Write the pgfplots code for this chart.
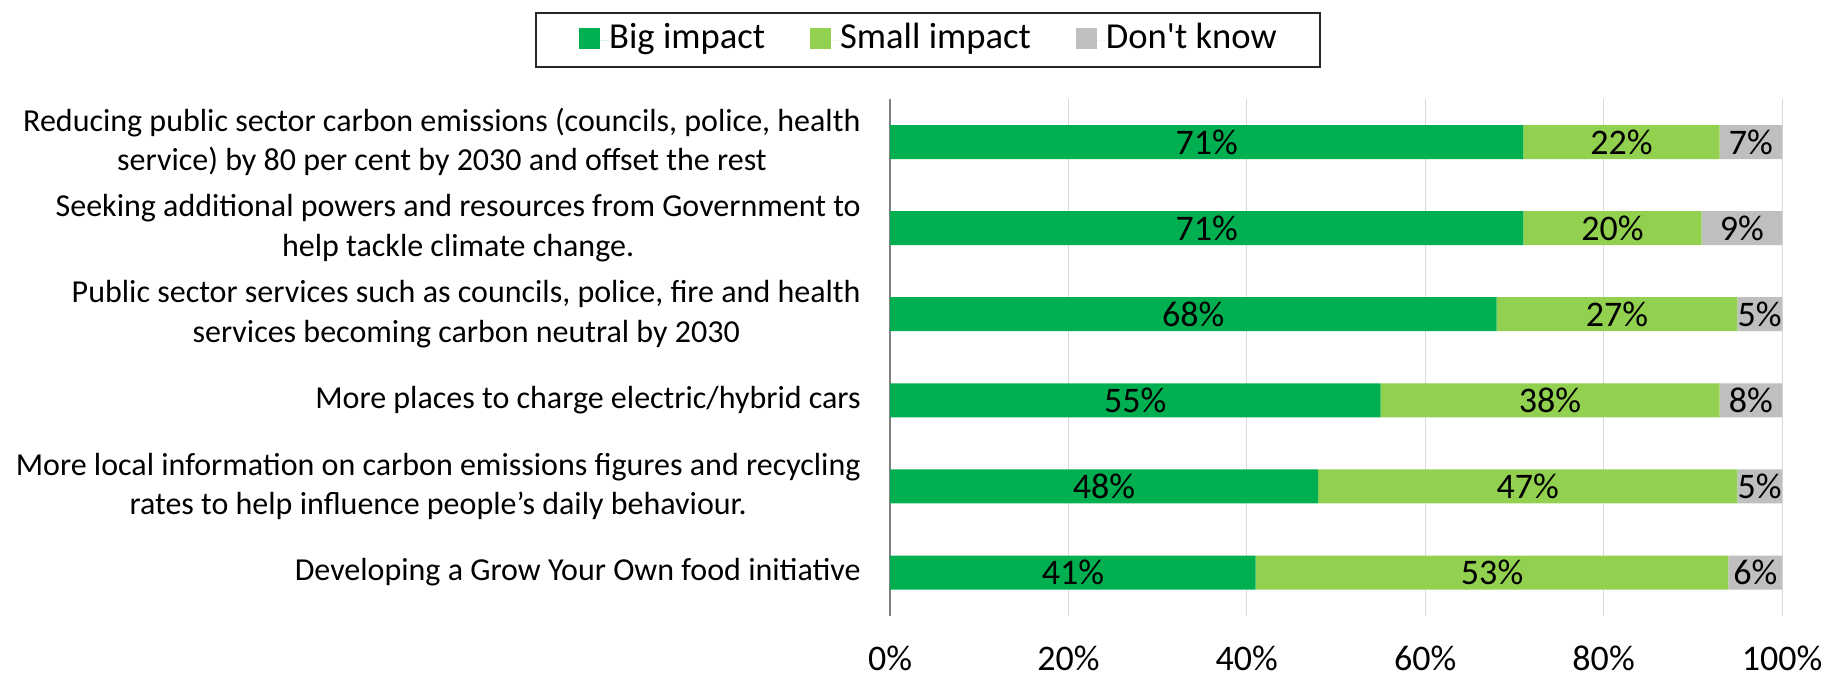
\documentclass[border=0pt]{standalone}
\usepackage{pgfplots}
\pgfplotsset{compat=1.18}
\usepackage{fontspec}
\setmainfont{Carlito}[Ligatures=TeXOff]
\definecolor{bigc}{HTML}{00B050}
\definecolor{smallc}{HTML}{92D050}
\definecolor{dkc}{HTML}{BFBFBF}
\definecolor{gridc}{HTML}{D9D9D9}
\definecolor{axc}{HTML}{808080}
\begin{document}
\begin{tikzpicture}
\path[use as bounding box] (0,0) rectangle (920.5pt,339pt);
\begin{axis}[
  at={(445pt,31.2pt)}, anchor=south west,
  scale only axis, width=446pt, height=258.3pt,
  /pgf/number format/assume math mode=true,
  xbar stacked, bar width=17pt,
  xmin=0, xmax=100, ymin=-0.5, ymax=5.5, y dir=reverse,
  enlargelimits=false,
  xtick={0,20,40,60,80,100},
  xticklabels={0\%,20\%,40\%,60\%,80\%,100\%},
  xticklabel style={anchor=base, yshift=-27.5pt, inner sep=0pt, font=\fontsize{18}{22}\selectfont},
  ytick={0,1,2,3,4,5},
  yticklabels={
    {Reducing public sector carbon emissions (councils, police, health\\service) by 80 per cent by 2030 and offset the rest},
    {Seeking additional powers and resources from Government to\\help tackle climate change.},
    {Public sector services such as councils, police, fire and health\\services becoming carbon neutral by 2030},
    {More places to charge electric/hybrid cars},
    {More local information on carbon emissions figures and recycling\\rates to help influence people’s daily behaviour.},
    {Developing a Grow Your Own food initiative}},
  yticklabel style={align=center, anchor=east, inner sep=0pt, xshift=-14.5pt, font=\fontsize{16}{19.8}\selectfont},
  major tick length=0pt,
  xmajorgrids, grid style={color=gridc, line width=0.5pt},
  extra x ticks={0}, extra x tick labels={},
  extra x tick style={grid style={color=axc, line width=1pt}},
  axis line style={draw=none},
  point meta=explicit,
  nodes near coords={\pgfmathprintnumber{\pgfplotspointmeta}\%},
  every node near coord/.append style={font=\fontsize{18}{22}\selectfont, black},
  legend columns=3,
  legend style={at={(axis description cs:0.0426,1.168)}, anchor=north,
    draw=black!85, line width=1pt, font=\fontsize{18.3}{22}\selectfont,
    inner xsep=21.5pt, inner ysep=4.6pt,
    nodes={inner sep=0pt, text height=13.2pt, text depth=4.6pt},
    /tikz/every even column/.append style={column sep=22.5pt}},
  legend image code/.code={\fill[#1] (0pt,-4.5pt) rectangle (10.5pt,6pt); \path (0pt,0pt) -- (15pt,0pt);},
]
\addplot[fill=bigc, draw=none] coordinates {(71,0)[71] (71,1)[71] (68,2)[68] (55,3)[55] (48,4)[48] (41,5)[41]};
\addplot[fill=smallc, draw=none] coordinates {(22,0)[22] (20,1)[20] (27,2)[27] (38,3)[38] (47,4)[47] (53,5)[53]};
\addplot[fill=dkc, draw=none] coordinates {(7,0)[7] (9,1)[9] (5,2)[5] (7,3)[8] (5,4)[5] (6,5)[6]};
\legend{Big impact, Small impact, Don't know}
\end{axis}
\end{tikzpicture}
\end{document}
